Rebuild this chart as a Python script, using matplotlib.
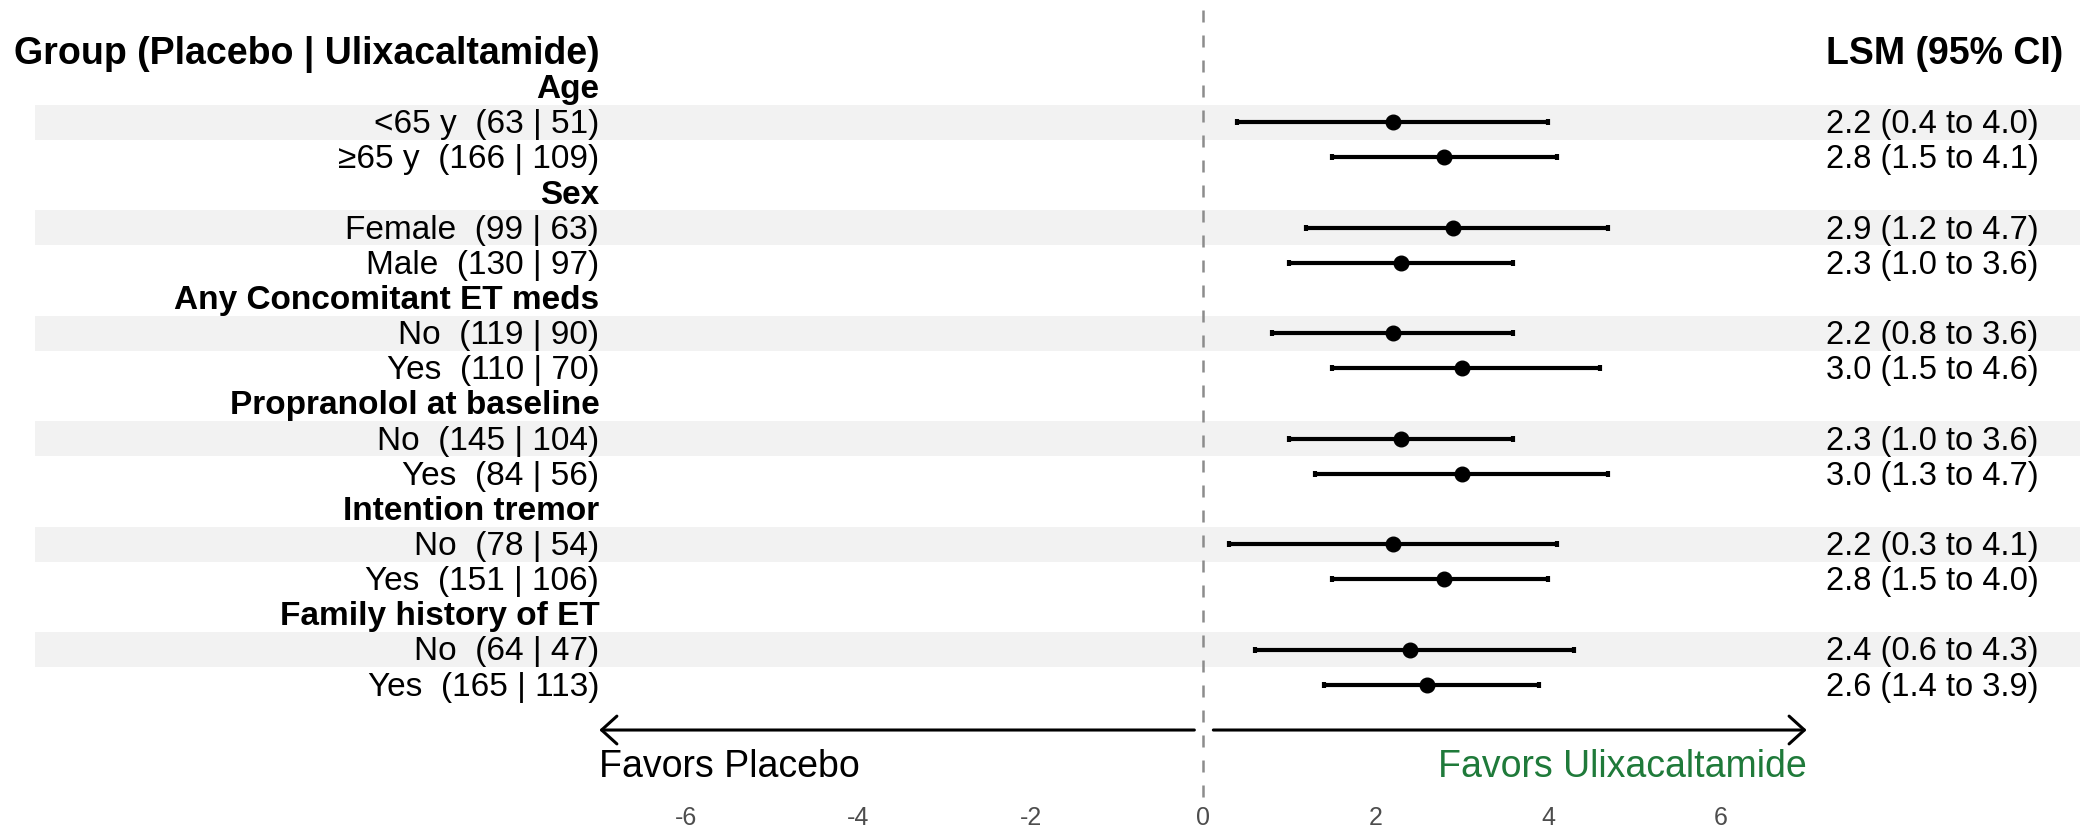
import matplotlib
matplotlib.use("Agg")
import matplotlib.pyplot as plt
import numpy as np

plt.rcParams['font.family'] = ['Liberation Sans', 'DejaVu Sans']

groups = ["Age", "Sex", "Any Concomitant ET meds", "Propranolol at baseline",
          "Intention tremor", "Family history of ET"]
subgroups = ["<65 y", "≥65 y", "Female", "Male", "No", "Yes", "No", "Yes",
             "No", "Yes", "No", "Yes"]
n_placebo = [63, 166, 99, 130, 119, 110, 145, 84, 78, 151, 64, 165]
n_ulix = [51, 109, 63, 97, 90, 70, 104, 56, 54, 106, 47, 113]
lsm = [2.2, 2.8, 2.9, 2.3, 2.2, 3.0, 2.3, 3.0, 2.2, 2.8, 2.4, 2.6]
ci_low = [0.4, 1.5, 1.2, 1.0, 0.8, 1.5, 1.0, 1.3, 0.3, 1.5, 0.6, 1.4]
ci_high = [4.0, 4.1, 4.7, 3.6, 3.6, 4.6, 3.6, 4.7, 4.1, 4.0, 4.3, 3.9]
xticks = [-6, -4, -2, 0, 2, 4, 6]

fig = plt.figure(figsize=(20.8, 8.33), dpi=100)
ax = fig.add_axes([0, 0, 1, 1])
ax.set_xlim(-13.95, 10.17)
ax.set_ylim(22.22, -1.48)
ax.axis('off')

# row positions: group header then its two subgroups
grow = [1 + 3 * g for g in range(len(groups))]
srow = []
for g in grow:
    srow += [g + 1, g + 2]
srow = np.array(srow)
dy = 0.07  # nudge text so glyphs sit centred like the original

# shaded bands on first subgroup of each group
for r in srow[::2]:
    ax.axhspan(r - 0.5, r + 0.5, xmin=(-13.54 + 13.95) / 24.12, xmax=1,
               color='#f2f2f2', lw=0, zorder=0)

ax.plot([0, 0], [-1.19, 21.2], color='#8c8c8c', lw=1.8,
        linestyle=(0, (4.8, 5.2)), zorder=1)

lsm = np.array(lsm)
ax.errorbar(lsm, srow, xerr=[lsm - np.array(ci_low), np.array(ci_high) - lsm],
            fmt='o', color='black', ms=10.5, lw=3, capsize=2.5, capthick=3,
            zorder=3)

# left column
ax.text(-7, 0 + dy, "Group (Placebo | Ulixacaltamide)", ha='right',
        va='center', fontsize=27, fontweight='bold')
for g, r in zip(groups, grow):
    ax.text(-7, r + dy, g, ha='right', va='center', fontsize=24,
            fontweight='bold')
for i, r in enumerate(srow):
    ax.text(-7, r + dy, f"{subgroups[i]}  ({n_placebo[i]} | {n_ulix[i]})",
            ha='right', va='center', fontsize=24)

# right column
ax.text(7.23, 0 + dy, "LSM (95% CI)", ha='left', va='center', fontsize=27,
        fontweight='bold')
for i, r in enumerate(srow):
    ax.text(7.23, r + dy, f"{lsm[i]:.1f} ({ci_low[i]:.1f} to {ci_high[i]:.1f})",
            ha='left', va='center', fontsize=23.5)

# direction arrows
arr = dict(arrowstyle='->,head_length=0.55,head_width=0.5', lw=2.2,
           color='black', mutation_scale=20, shrinkA=0, shrinkB=0)
ax.annotate('', xy=(-7, 19.29), xytext=(-0.1, 19.29), arrowprops=arr)
ax.annotate('', xy=(7, 19.29), xytext=(0.12, 19.29), arrowprops=arr)
ax.text(-7, 20.28 + dy, "Favors Placebo", ha='left', va='center', fontsize=27)
ax.text(7, 20.28 + dy, "Favors Ulixacaltamide", ha='right', va='center',
        fontsize=27, color='#1f7a3a')

for t in xticks:
    ax.text(t, 21.78, str(t), ha='center', va='center', fontsize=18,
            color='#4d4d4d')

fig.savefig('out.png', dpi=100)
